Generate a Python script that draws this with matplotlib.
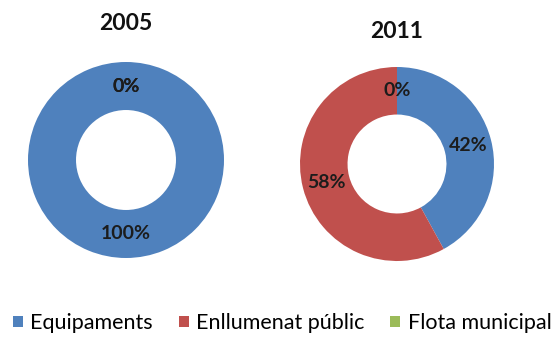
import numpy as np
import matplotlib.pyplot as plt

# consum energètic municipal per sector
categories = ['Equipaments', 'Enllumenat públic', 'Flota municipal']
years = ['2005', '2011']
values_2005 = [100, 0, 0]
values_2011 = [42, 58, 0]
colors = ['#4F81BD', '#C0504D', '#9BBB59']

plt.rcParams['font.family'] = ['Lato', 'DejaVu Sans']

W, H = 559, 337
fig = plt.figure(figsize=(W / 100, H / 100), dpi=100)


def donut(cx, cy, r, vals, title, ty):
    ax = fig.add_axes([(cx - r) / W, (H - cy - r) / H, 2 * r / W, 2 * r / H])
    wedges, _ = ax.pie(vals, colors=colors, startangle=90, counterclock=False,
                       radius=1, wedgeprops=dict(width=0.49, linewidth=0))
    tot = sum(vals)
    for w, v in zip(wedges, vals):
        ang = np.deg2rad((w.theta1 + w.theta2) / 2)
        ax.text(0.755 * np.cos(ang), 0.755 * np.sin(ang),
                '%d%%' % round(100 * v / tot), ha='center', va='center',
                fontsize=14, fontweight='bold', color='#1c1c1c')
    ax.set_xlim(-1, 1)
    ax.set_ylim(-1, 1)
    ax.set_aspect('equal')
    ax.axis('off')
    fig.text(cx / W, 1 - ty / H, title, ha='center', va='center',
             fontsize=16.5, fontweight='bold', color='#111111')
    return wedges


w1 = donut(126, 160, 98, values_2005, years[0], 24)
donut(397, 164, 97, values_2011, years[1], 31)

fig.legend(w1, categories, loc='center', bbox_to_anchor=(0.505, 1 - 323 / H),
           ncol=3, frameon=False, fontsize=15.5, handlelength=0.45,
           handleheight=0.45, handletextpad=0.35, columnspacing=1.2,
           borderaxespad=0, borderpad=0)

fig.savefig('out.png', dpi=100, facecolor='white')
